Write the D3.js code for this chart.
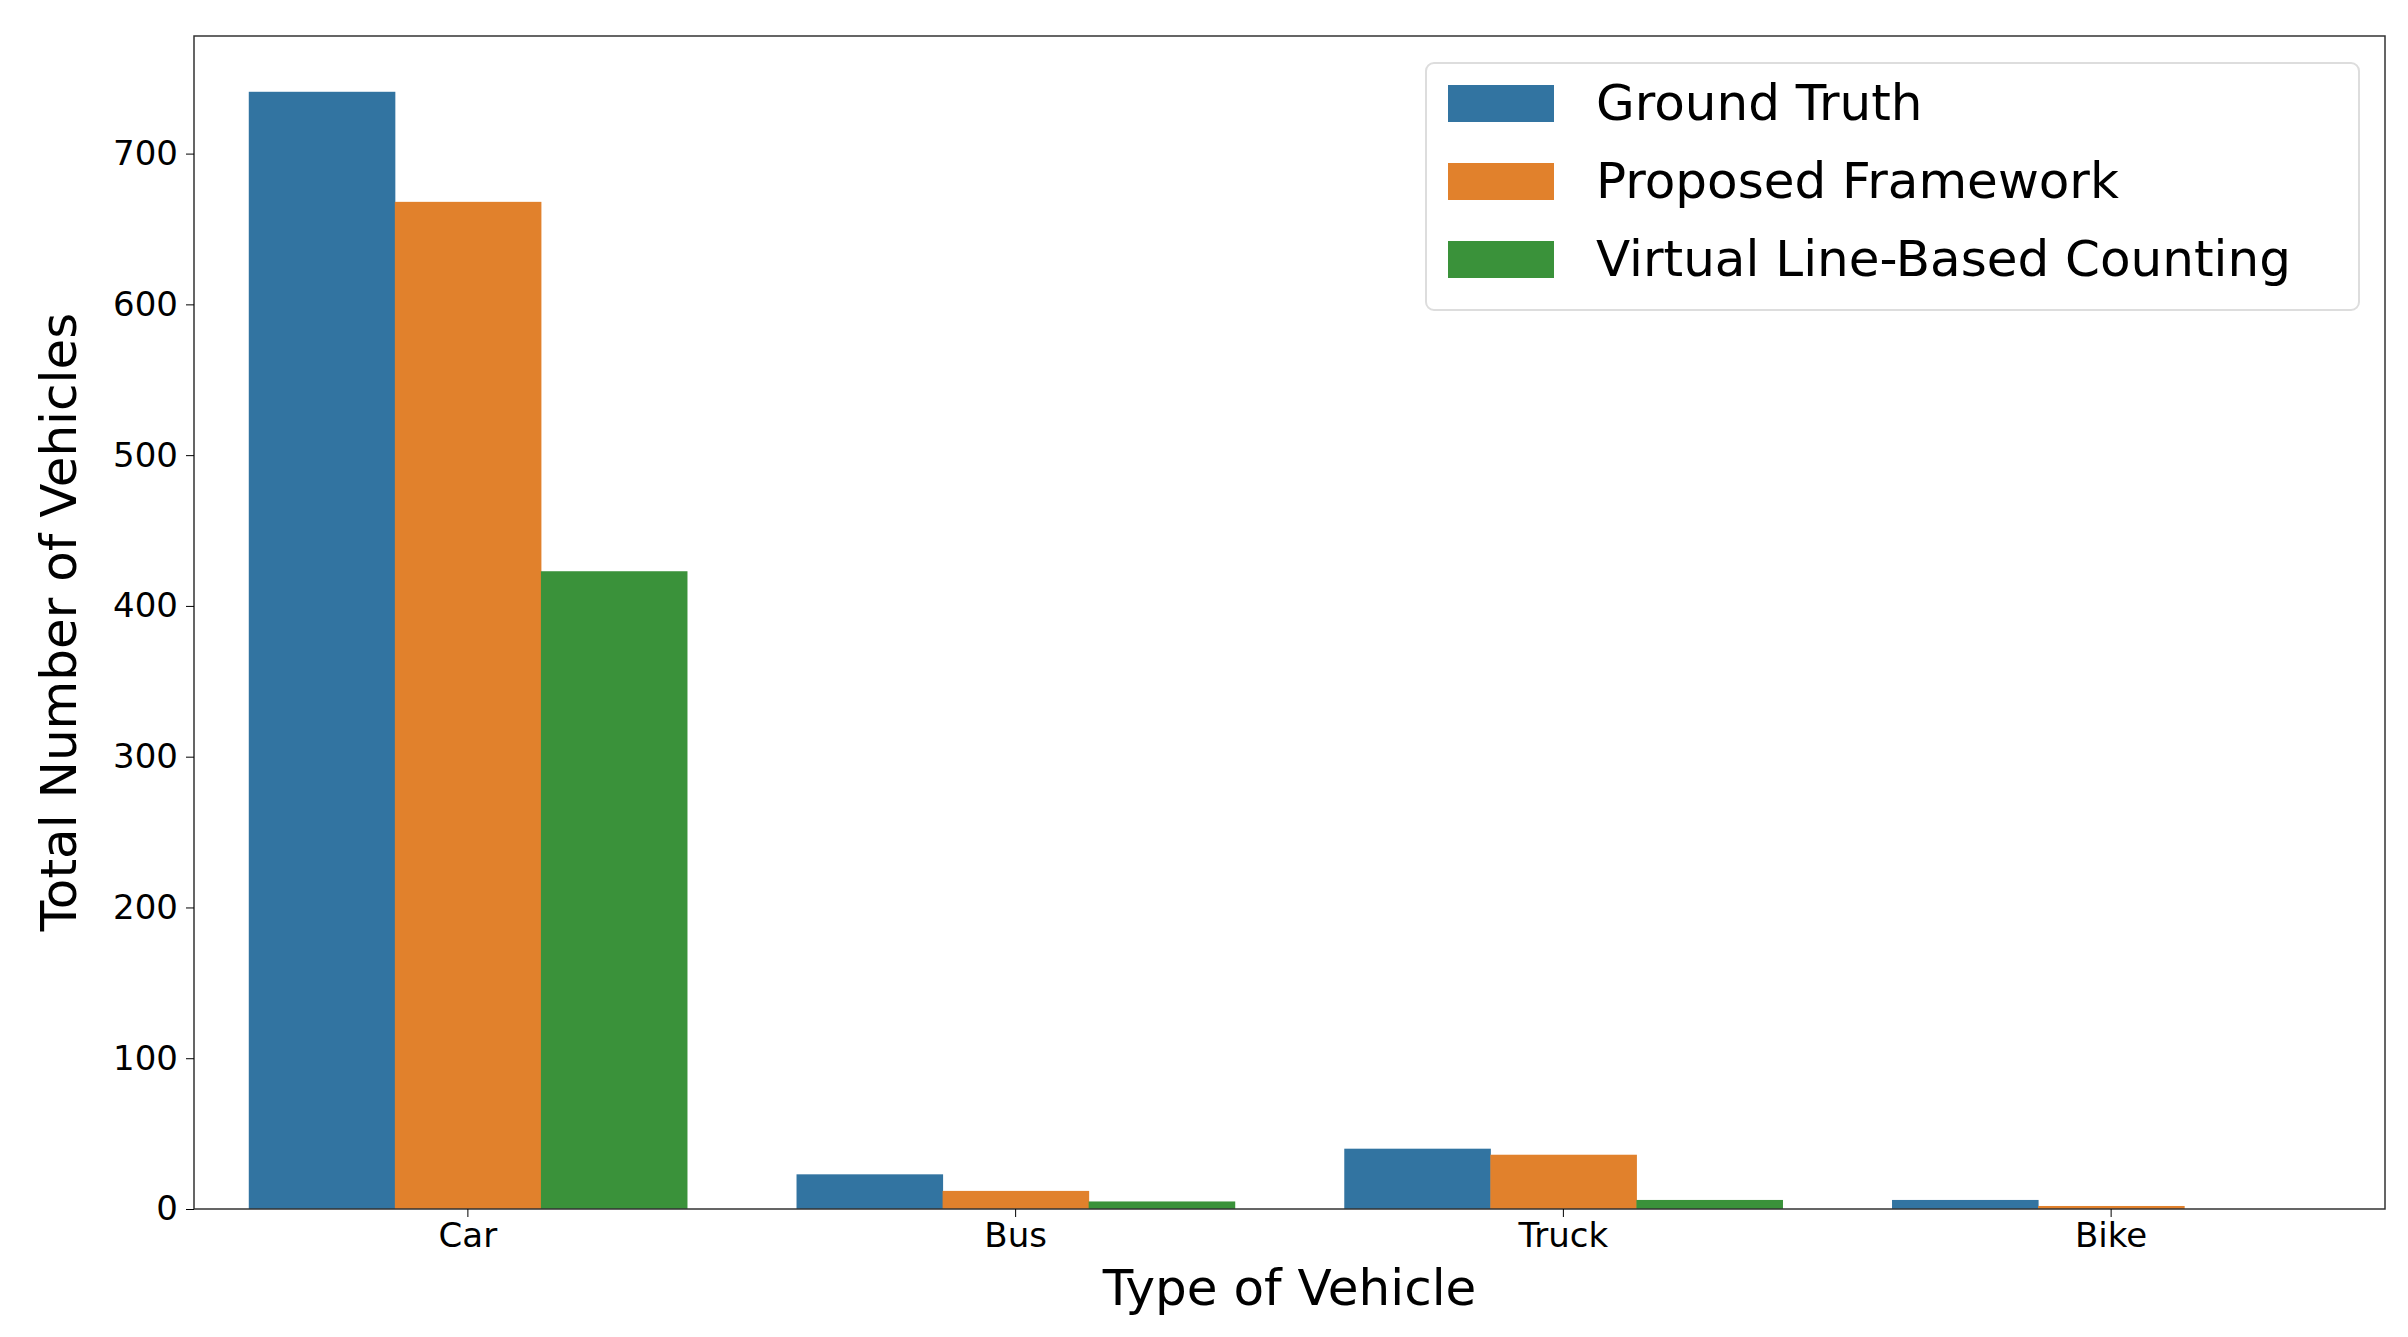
<!DOCTYPE html>
<html><head><meta charset="utf-8">
<script src="https://d3js.org/d3.v7.min.js"></script>
<style>body{margin:0;background:#fff}text{font-family:"DejaVu Sans",sans-serif;fill:#000}</style>
</head><body>
<svg id="c" width="2408" height="1337"></svg>
<script>
const categories = ["Car","Bus","Truck","Bike"];
const seriesNames = ["Ground Truth","Proposed Framework","Virtual Line-Based Counting"];
const groundTruth = [741, 23, 40, 6];
const proposed = [668, 12, 36, 2];
const virtualLine = [423, 5, 6, 0];
const yTicks = [0,100,200,300,400,500,600,700];
const colors = ["#3274a1","#e1812c","#3a923a"];
const series = [groundTruth, proposed, virtualLine];

const svg = d3.select("#c");
const L=194,R=2385,T=36,B=1209;
const x = d3.scaleBand().domain(categories).range([L,R]).paddingInner(0.2).paddingOuter(0.1);
const y = d3.scaleLinear().domain([0,778]).range([B,T]);
const xs = d3.scaleBand().domain(d3.range(3)).range([0,x.bandwidth()]);

series.forEach((vals,si)=>{
  svg.append("g").selectAll("rect").data(vals).join("rect")
    .attr("x",(d,i)=>x(categories[i])+xs(si)).attr("width",xs.bandwidth()+0.5)
    .attr("y",d=>y(d)).attr("height",d=>B-y(d)).attr("fill",colors[si]);
});

svg.append("rect").attr("x",L).attr("y",T).attr("width",R-L).attr("height",B-T)
  .attr("fill","none").attr("stroke","#333").attr("stroke-width",1.5);

const ya = svg.append("g").attr("transform",`translate(${L},0)`)
  .call(d3.axisLeft(y).tickValues(yTicks).tickSize(8).tickPadding(8));
ya.select(".domain").remove();
ya.selectAll("text").style("font-size","34px").style("font-family","DejaVu Sans");
const xa = svg.append("g").attr("transform",`translate(0,${B})`)
  .call(d3.axisBottom(x).tickSize(8).tickPadding(6));
xa.select(".domain").remove();
xa.selectAll("text").style("font-size","34px").style("font-family","DejaVu Sans");

svg.append("text").attr("x",(L+R)/2).attr("y",1305).attr("text-anchor","middle")
  .style("font-size","50px").text("Type of Vehicle");
svg.append("text").attr("transform","translate(76,622) rotate(-90)").attr("text-anchor","middle")
  .style("font-size","50px").text("Total Number of Vehicles");

const lg = svg.append("g");
lg.append("rect").attr("x",1426).attr("y",63).attr("width",933).attr("height",247).attr("rx",8)
  .attr("fill","#fff").attr("stroke","#ddd").attr("stroke-width",2);
seriesNames.forEach((n,i)=>{
  const cy = 103 + i*78;
  lg.append("rect").attr("x",1448).attr("y",cy-18).attr("width",106).attr("height",37).attr("fill",colors[i]);
  lg.append("text").attr("x",1596).attr("y",cy+17).style("font-size","50px").text(n);
});
</script>
</body></html>
